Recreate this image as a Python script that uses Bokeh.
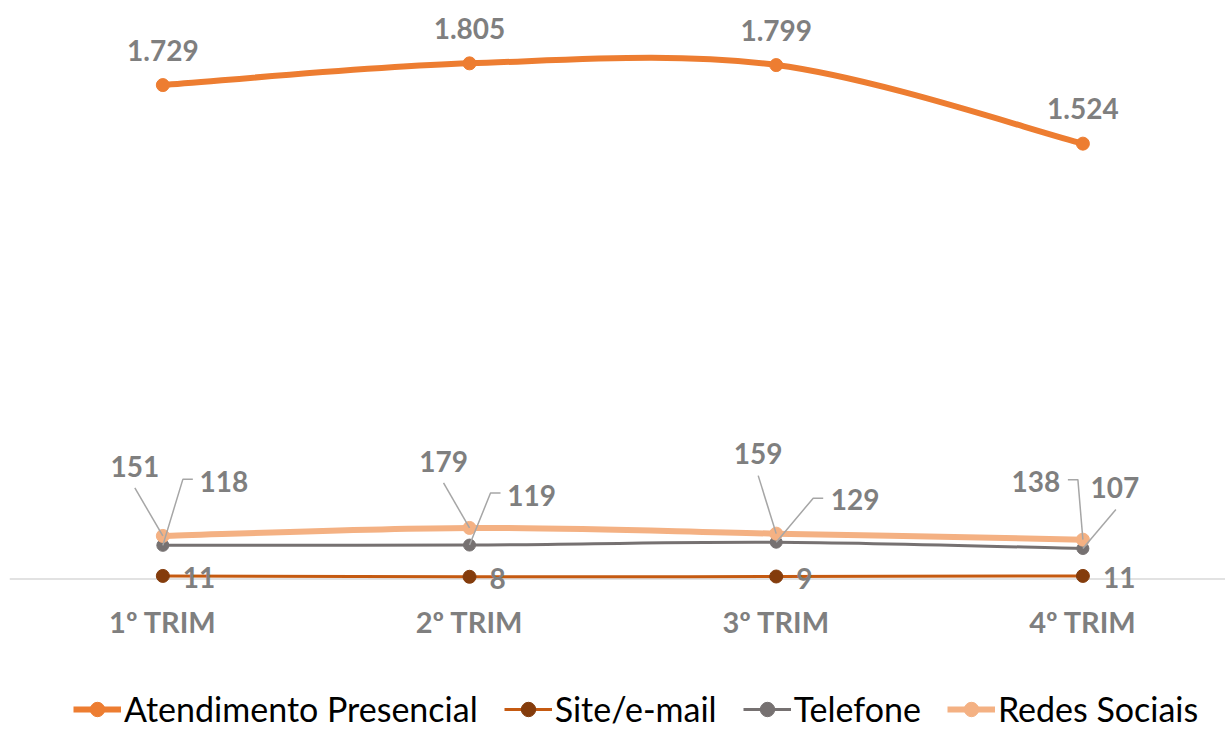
from bokeh.plotting import figure
from bokeh.layouts import column
from bokeh.models import Range1d, FixedTicker, Legend, LegendItem, ColumnDataSource, Span
from bokeh.core.properties import value
from bokeh.embed import file_html
from bokeh.resources import INLINE

# ---- data ----
categories = ["1º TRIM", "2º TRIM", "3º TRIM", "4º TRIM"]
atendimento = [1729, 1805, 1799, 1524]
site_email = [11, 8, 9, 11]
telefone = [118, 119, 129, 107]
redes = [151, 179, 159, 138]

# ---- layout ----
W, H = 1225, 688
LEG_H = 41
B_LEFT, B_RIGHT, B_TOP, B_BOTTOM = 9, 0, 0, 88
X_START, X_END = -0.5, 3.465
Y_START, Y_END = -75, 2025
PX_X = (W - B_LEFT - B_RIGHT) / (X_END - X_START)
PX_Y = (H - B_TOP - B_BOTTOM) / (Y_END - Y_START)

FONT = "Lato"
LABEL_COLOR = "#7F7F7F"
LEADER_COLOR = "#A6A6A6"

p = figure(width=W, height=H, output_backend="svg", toolbar_location=None,
           x_range=Range1d(X_START, X_END), y_range=Range1d(Y_START, Y_END),
           min_border_left=B_LEFT, min_border_right=B_RIGHT,
           min_border_top=B_TOP, min_border_bottom=B_BOTTOM)
p.outline_line_color = None
p.grid.visible = False
p.yaxis.visible = False
p.background_fill_color = "white"
p.border_fill_color = "white"

xa = p.xaxis[0]
xa.ticker = FixedTicker(ticks=list(range(len(categories))))
xa.major_label_overrides = {i: c for i, c in enumerate(categories)}
xa.major_label_text_font = FONT
xa.major_label_text_font_style = "bold"
xa.major_label_text_font_size = "29px"
xa.major_label_text_color = LABEL_COLOR
xa.major_label_standoff = -3
xa.axis_line_color = None
xa.major_tick_line_color = None
xa.minor_tick_line_color = None

# category axis line drawn at value 0
p.add_layout(Span(location=0, dimension="width", line_color="#D9D9D9",
                  line_width=1.5, level="underlay"))

xs = list(range(len(categories)))


def bezier_source(ys):
    n = len(ys)
    d = dict(x0=[], y0=[], x1=[], y1=[], cx0=[], cy0=[], cx1=[], cy1=[])
    for i in range(n - 1):
        pm = max(i - 1, 0)
        pp = min(i + 2, n - 1)
        d["x0"].append(xs[i]); d["y0"].append(ys[i])
        d["x1"].append(xs[i + 1]); d["y1"].append(ys[i + 1])
        d["cx0"].append(xs[i] + (xs[i + 1] - xs[pm]) / 6)
        d["cy0"].append(ys[i] + (ys[i + 1] - ys[pm]) / 6)
        d["cx1"].append(xs[i + 1] - (xs[pp] - xs[i]) / 6)
        d["cy1"].append(ys[i + 1] - (ys[pp] - ys[i]) / 6)
    return ColumnDataSource(d)


series = [
    ("Atendimento Presencial", atendimento, "#ED7D31", "#ED7D31", 6, 13),
    ("Site/e-mail", site_email, "#C55A11", "#843C0C", 3, 13),
    ("Telefone", telefone, "#767171", "#767171", 3, 12),
    ("Redes Sociais", redes, "#F4B183", "#F4B183", 6, 13),
]

# legend strip as a second, axis-less figure (its renderers fall outside its range)
pl = figure(width=W, height=LEG_H, output_backend="svg", toolbar_location=None,
            x_range=Range1d(0, 1), y_range=Range1d(0, 1),
            min_border_left=0, min_border_right=0, min_border_top=0, min_border_bottom=0)
pl.axis.visible = False
pl.grid.visible = False
pl.outline_line_color = None
pl.background_fill_color = "white"
pl.border_fill_color = "white"

items = []
for name, ys, lc, mc, lw, ms in series:
    p.bezier(x0="x0", y0="y0", x1="x1", y1="y1", cx0="cx0", cy0="cy0",
             cx1="cx1", cy1="cy1", source=bezier_source(ys),
             line_color=lc, line_width=lw, line_cap="round")
    p.scatter(x=xs, y=ys, size=ms, marker="circle", fill_color=mc, line_color=mc)
    lr = pl.line(x=xs, y=ys, line_color=lc, line_width=lw)
    sr = pl.scatter(x=xs, y=ys, size=ms, marker="circle", fill_color=mc, line_color=mc)
    items.append(LegendItem(label=name, renderers=[lr, sr]))

# ---- leader lines (pixel offsets from the point, converted to data units) ----
tel_leaders = [[(20, -66), (30, -66)], [(21, -52), (31, -52)],
               [(37, -44), (47, -44)], [(33, -39)]]
red_leaders = [[(-28, -48)], [(-26, -45)], [(-18, -58)], [(-5, -60), (-15, -60)]]
lx, ly = [], []
for vals, leaders in ((telefone, tel_leaders), (redes, red_leaders)):
    for i, v in enumerate(vals):
        pxs = [xs[i]] + [xs[i] + dx / PX_X for dx, dy in leaders[i]]
        pys = [v] + [v - dy / PX_Y for dx, dy in leaders[i]]
        lx.append(pxs); ly.append(pys)
p.multi_line(xs=lx, ys=ly, line_color=LEADER_COLOR, line_width=1.5)

# ---- data labels ----
def fmt(v):
    return f"{v:,}".replace(",", ".")

text_kw = dict(text_font=value(FONT), text_font_style="bold",
               text_font_size="28px", text_color=LABEL_COLOR, text_baseline="middle")

p.text(x=xs, y=atendimento, text=[fmt(v) for v in atendimento],
       x_offset=0, y_offset=-35, text_align="center", **text_kw)
p.text(x=xs, y=site_email, text=[fmt(v) for v in site_email],
       x_offset=20, y_offset=2, text_align="left", **text_kw)
p.text(x=xs, y=telefone, text=[fmt(v) for v in telefone],
       x_offset=[61, 62, 79, 32], y_offset=[-64, -50, -43, -61],
       text_align="center", **text_kw)
p.text(x=xs, y=redes, text=[fmt(v) for v in redes],
       x_offset=[-28, -26, -18, -47], y_offset=[-69, -66, -80, -58],
       text_align="center", **text_kw)

legend = Legend(items=items, orientation="horizontal", location=(64, 0),
                label_text_font=FONT, label_text_font_size="34px",
                label_text_color="#000000", glyph_width=48, glyph_height=36,
                label_height=36, label_standoff=3, spacing=26, padding=0,
                margin=0, border_line_color=None, background_fill_alpha=0)
pl.add_layout(legend)

layout = column(p, pl, spacing=0)
open("out.html", "w").write(file_html(layout, INLINE))
